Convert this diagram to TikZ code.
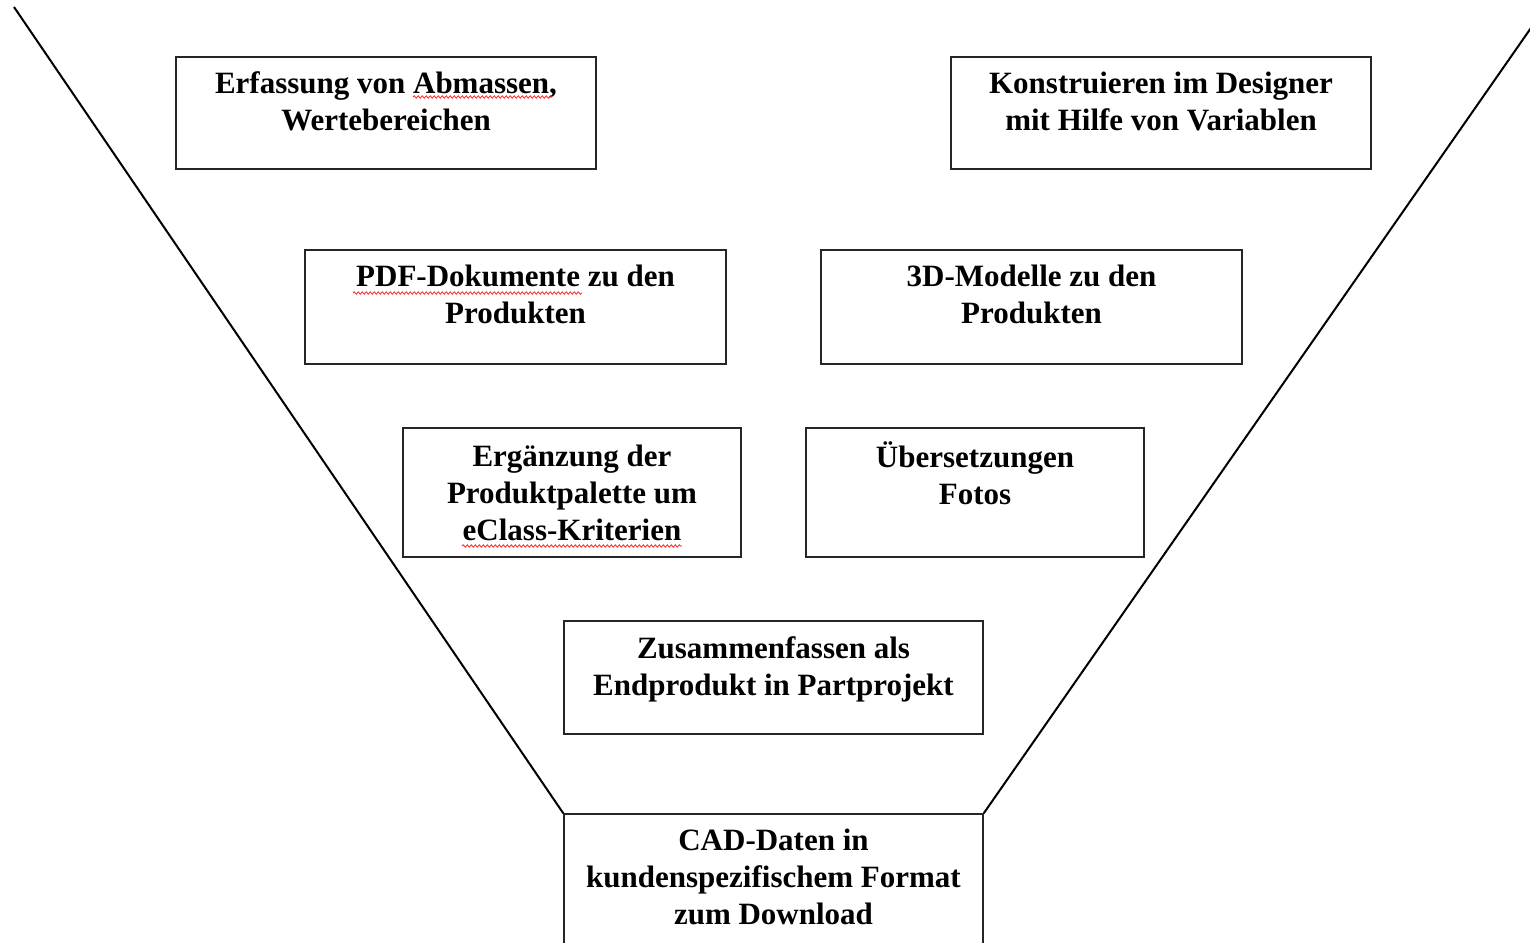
\documentclass[tikz,border=0pt]{standalone}
\usepackage{fontspec}
\setmainfont{Liberation Serif}
\usetikzlibrary{decorations.pathmorphing}

\begin{document}
\begin{tikzpicture}[x=1pt,y=-1pt,
  feld/.style={draw=black!85, line width=1.5pt, rectangle, inner sep=0pt},
  beschr/.style={anchor=north, align=center, inner sep=0pt,
    font=\fontsize{31}{37}\selectfont\bfseries},
  trichter/.style={line width=2pt},
  wellig/.style={red!85, line width=0.8pt, decorate,
    decoration={snake, amplitude=1.2pt, segment length=4pt}}]
	\clip (0,0) rectangle (1530,942);
	
	% Kaesten
	\node[feld, minimum width=420pt, minimum height=112pt] (erfassung) at (386,113) {};
	\node[feld, minimum width=420pt, minimum height=112pt] (konstruieren) at (1161,113) {};
	\node[feld, minimum width=421pt, minimum height=114pt] (pdf) at (515.5,307) {};
	\node[feld, minimum width=421pt, minimum height=114pt] (modelle) at (1031.5,307) {};
	\node[feld, minimum width=338pt, minimum height=129pt] (ergaenzung) at (572,492.5) {};
	\node[feld, minimum width=338pt, minimum height=129pt] (uebersetzung) at (975,492.5) {};
	\node[feld, minimum width=419pt, minimum height=113pt] (zusammen) at (773.5,677.5) {};
	\node[feld, minimum width=419pt, minimum height=140pt] (cad) at (773.5,884) {};
	
	% Texte
	\node[beschr] (erfassungtxt) at ([yshift=-15pt]erfassung.north) {Erfassung von Abmassen,\\Wertebereichen};
	\node[beschr] (konstruierentxt) at ([yshift=-16pt]konstruieren.north) {Konstruieren im Designer\\mit Hilfe von Variablen};
	\node[beschr] (pdftxt) at ([yshift=-16pt]pdf.north) {PDF-Dokumente zu den\\Produkten};
	\node[beschr] (modelletxt) at ([yshift=-16pt]modelle.north) {3D-Modelle zu den\\Produkten};
	\node[beschr] (ergaenzungtxt) at ([yshift=-18pt]ergaenzung.north) {Ergänzung der\\Produktpalette um\\eClass-Kriterien};
	\node[beschr] (uebersetzungtxt) at ([yshift=-14pt]uebersetzung.north) {Übersetzungen\\Fotos};
	\node[beschr] (zusammentxt) at ([yshift=-16pt]zusammen.north) {Zusammenfassen als\\Endprodukt in Partprojekt};
	\node[beschr] (cadtxt) at ([yshift=-16pt]cad.north) {CAD-Daten in\\kundenspezifischem Format\\zum Download};
	
	% Trichter
	\coordinate (linksoben) at (14,7);
	\coordinate (rechtsoben) at (1533,25);
	\draw[trichter] (linksoben) -- (cad.north west);
	\draw[trichter] (rechtsoben) -- (cad.north east);
	
	% Rechtschreibmarken
	\draw[wellig] (413,97) -- (552,97);
	\draw[wellig] (353,293) -- (582,293);
	\draw[wellig] (462,546) -- (682,546);
	
\end{tikzpicture}
\end{document}
